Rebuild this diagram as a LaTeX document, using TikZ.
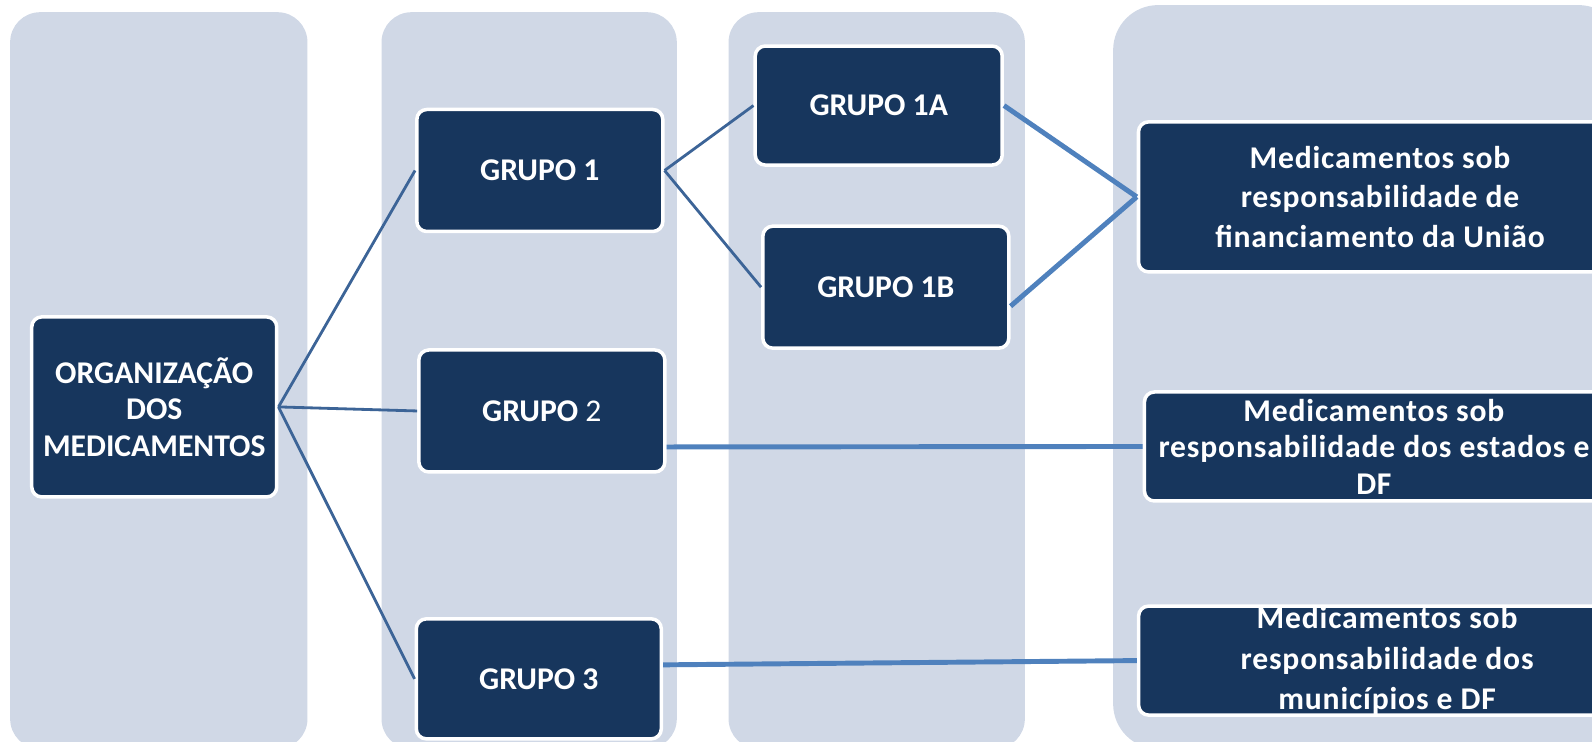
\documentclass[tikz,border=0pt]{standalone}
\usepackage{fontspec}
\setmainfont{Carlito}
\newfontfamily\widefont[LetterSpace=2.6]{Carlito}
\definecolor{navy}{HTML}{17365D}
\definecolor{panelbg}{HTML}{D0D8E6}
\definecolor{linkdark}{HTML}{3C6497}
\definecolor{linklight}{HTML}{4F81BD}
\begin{document}
\begin{tikzpicture}[x=0.01015cm,y=-0.01015cm,
        panel/.style={fill=panelbg,rounded corners=0.3cm},
        box/.style={shape=rectangle,fill=navy,draw=white,line width=1pt,rounded corners=0.1cm,
            text=white,font=\fontsize{9}{10.4}\selectfont\bfseries,align=center,inner sep=0pt},
        mbox/.style={box,font=\widefont\fontsize{9}{#1}\selectfont\bfseries},
        thin link/.style={draw=linkdark,line width=0.8pt},
        thick link/.style={draw=linklight,line width=1.4pt}]
                \clip (0cm,0cm) rectangle (15.92cm,-7.41cm);
                \fill[panel] (10,12) rectangle (303,738);
                \fill[panel] (376,12) rectangle (667,738);
                \fill[panel] (718,12) rectangle (1010,738);
                \fill[panel,rounded corners=0.45cm] (1097,5) rectangle (1600,738);
                \node[box,minimum width=2.45cm,minimum height=1.80cm](org)at(152, 401){ORGANIZAÇÃO\\DOS\\MEDICAMENTOS};
                \node[box,minimum width=2.46cm,minimum height=1.22cm](g1)at(532, 168){GRUPO 1};
                \node[box,minimum width=2.46cm,minimum height=1.22cm](g2)at(534, 405){GRUPO {\mdseries 2}};
                \node[box,minimum width=2.45cm,minimum height=1.20cm](g3)at(531, 669){GRUPO 3};
                \node[box,minimum width=2.47cm,minimum height=1.19cm](g1a)at(866, 104){GRUPO 1A};
                \node[box,minimum width=2.46cm,minimum height=1.22cm](g1b)at(873, 283){GRUPO 1B};
                \node[mbox=11.3,minimum width=4.83cm,minimum height=1.50cm](m1)at(1360, 194){Medicamentos sob\\responsabilidade de\\financiamento da União};
                \node[mbox=10.4,minimum width=4.59cm,minimum height=1.09cm](m2)at(1354, 440){Medicamentos sob\\responsabilidade dos estados e\\DF};
                \node[mbox=11.55,minimum width=4.97cm,minimum height=1.09cm](m3)at(1367, 651){Medicamentos sob\\responsabilidade dos\\municípios e DF};
                \path[thin link](org.east) edge (g1.west)
                (org.east) edge (g2.west)
                (org.east) edge (g3.west)
                (g1.east) edge (g1a.west)
                (g1.east) edge (g1b.west);
                \path[thick link](g1a.east) edge (m1.west)
                ([yshift=-0.19cm]g1b.east) edge (m1.west)
                ([yshift=-0.36cm]g2.east) edge (m2.west)
                ([yshift=0.14cm]g3.east) edge (m3.west);
            \end{tikzpicture}
\end{document}
